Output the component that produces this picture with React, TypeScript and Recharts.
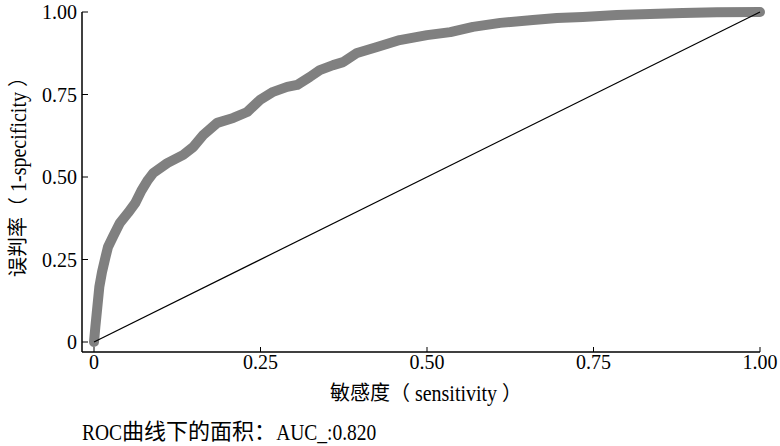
import { LineChart, Line, XAxis, YAxis } from 'recharts';

// ROC curve (x = horizontal axis, y = vertical axis)
const rocX = [
  0, 0.002, 0.005, 0.008, 0.012, 0.017, 0.021, 0.029, 0.039, 0.051, 0.062, 0.071, 0.081,
  0.089, 0.11, 0.134, 0.149, 0.164, 0.185, 0.209, 0.23, 0.249, 0.269, 0.29, 0.305, 0.324,
  0.339, 0.359, 0.374, 0.395, 0.425, 0.459, 0.5, 0.535, 0.569, 0.61, 0.659, 0.695, 0.734,
  0.785, 0.835, 0.884, 0.935, 1,
];
const rocY = [
  0, 0.045, 0.106, 0.167, 0.212, 0.255, 0.288, 0.321, 0.361, 0.391, 0.421, 0.458, 0.491,
  0.512, 0.542, 0.567, 0.591, 0.627, 0.664, 0.679, 0.697, 0.733, 0.758, 0.773, 0.779, 0.803,
  0.824, 0.839, 0.848, 0.876, 0.894, 0.915, 0.93, 0.939, 0.955, 0.967, 0.976, 0.982, 0.985,
  0.991, 0.994, 0.997, 0.999, 1,
];
const diagX = [0, 1];
const diagY = [0, 1];
const axisTicks = [0, 0.25, 0.5, 0.75, 1];
const xTitle = '敏感度（ sensitivity ）';
const yTitle = '误判率（ 1-specificity ）';
const aucText = 'ROC曲线下的面积：AUC_:0.820';

const rocData = rocX.map((x, i) => ({ x, y: rocY[i] }));
const diagData = diagX.map((x, i) => ({ x, y: diagY[i] }));

const font = '"Liberation Serif", "Noto Sans CJK SC", serif';
const fmt = (v: number) => (v === 0 ? '0' : v.toFixed(2));
const tickStyle = { fill: '#000', fontSize: 20, fontFamily: font };

// CJK runs are drawn a bit larger than the latin runs, like in the source figure
const cjkRe = /([\u3000-\u303f\u4e00-\u9fff\uff00-\uffef]+)/;
const MixedText = ({ text, latin, cjk }: { text: string; latin: number; cjk: number }) => (
  <>
    {text.split(cjkRe).map((s, i) =>
      cjkRe.test(s) ? (
        <span key={i} style={{ fontSize: cjk }}>
          {s}
        </span>
      ) : (
        <span
          key={i}
          style={{ fontSize: latin, display: 'inline-block', transform: 'scaleY(1.15)', whiteSpace: 'pre' }}
        >
          {s}
        </span>
      )
    )}
  </>
);

export default function App() {
  return (
    <div
      style={{
        position: 'absolute',
        left: 0,
        top: 0,
        width: 780,
        height: 446,
        background: '#fff',
        fontFamily: font,
        color: '#000',
      }}
    >
      <LineChart width={780} height={446} margin={{ top: 12, right: 20, left: 22, bottom: 44 }}>
        <XAxis
          type="number"
          dataKey="x"
          domain={[0, 1]}
          ticks={axisTicks}
          tickFormatter={fmt}
          padding={{ left: 12, right: 0 }}
          height={50}
          tickSize={-5}
          tickMargin={8}
          axisLine={{ stroke: '#000', strokeWidth: 1.5 }}
          tickLine={{ stroke: '#000' }}
          tick={tickStyle}
        />
        <YAxis
          type="number"
          dataKey="y"
          domain={[0, 1]}
          ticks={axisTicks}
          tickFormatter={fmt}
          padding={{ top: 0, bottom: 10 }}
          width={60}
          tickSize={-6}
          tickMargin={11}
          axisLine={{ stroke: '#000', strokeWidth: 1.5 }}
          tickLine={{ stroke: '#000' }}
          tick={tickStyle}
        />
        <Line
          data={rocData}
          dataKey="y"
          type="linear"
          stroke="#808080"
          strokeWidth={10}
          strokeLinecap="round"
          strokeLinejoin="round"
          dot={false}
          activeDot={false}
          isAnimationActive={false}
        />
        <Line
          data={diagData}
          dataKey="y"
          type="linear"
          stroke="#000"
          strokeWidth={1.2}
          dot={false}
          activeDot={false}
          isAnimationActive={false}
        />
      </LineChart>
      <div
        style={{
          position: 'absolute',
          left: 18,
          top: 172,
          transform: 'translate(-50%, -50%) rotate(-90deg)',
          whiteSpace: 'nowrap',
          lineHeight: 1,
        }}
      >
        <MixedText text={yTitle} latin={20} cjk={20} />
      </div>
      <div
        style={{
          position: 'absolute',
          left: 426,
          top: 393,
          transform: 'translate(-50%, -50%)',
          whiteSpace: 'nowrap',
          lineHeight: 1,
        }}
      >
        <MixedText text={xTitle} latin={20} cjk={20} />
      </div>
      <div
        style={{
          position: 'absolute',
          left: 82,
          top: 421,
          whiteSpace: 'nowrap',
          lineHeight: 1,
        }}
      >
        <MixedText text={aucText} latin={19.5} cjk={22} />
      </div>
    </div>
  );
}
